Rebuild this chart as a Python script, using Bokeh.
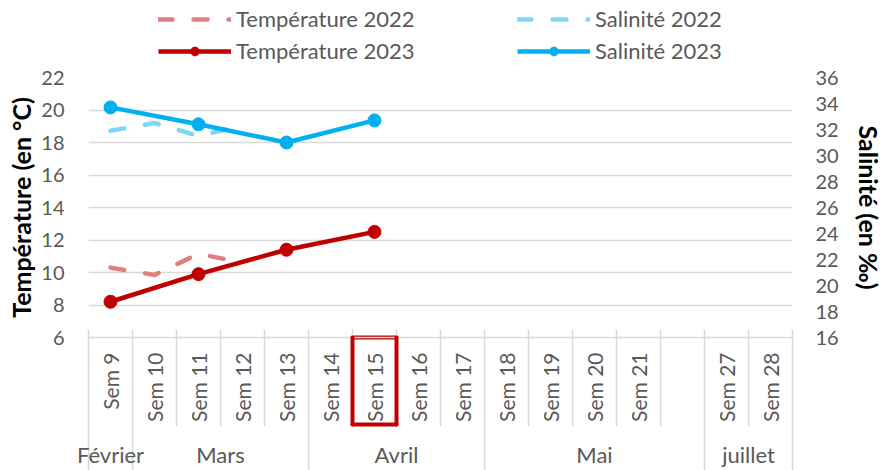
from bokeh.plotting import figure
from bokeh.layouts import column
from bokeh.models import (Range1d, LinearAxis, FixedTicker, Legend, LegendItem, Grid)
from bokeh.embed import file_html
from bokeh.resources import INLINE
import math

# ---- data ----
weeks = ["Sem 9", "Sem 10", "Sem 11", "Sem 12", "Sem 13", "Sem 14", "Sem 15", "Sem 16",
         "Sem 17", "Sem 18", "Sem 19", "Sem 20", "Sem 21", "", "Sem 27", "Sem 28"]
months = ["Février", "Mars", "Avril", "Mai", "juillet"]
month_sizes = [1, 4, 4, 5, 2]

weeks_2022 = ["Sem 9", "Sem 10", "Sem 11", "Sem 12"]
temp_2022 = [10.3, 9.85, 11.15, 10.6]
sal_2022 = [31.9, 32.5, 31.5, 32.3]

weeks_2023 = ["Sem 9", "Sem 11", "Sem 13", "Sem 15"]
temp_2023 = [8.2, 9.9, 11.4, 12.5]
sal_2023 = [33.7, 32.4, 31.0, 32.7]

temp_ticks = [6, 8, 10, 12, 14, 16, 18, 20, 22]
sal_ticks = [16, 18, 20, 22, 24, 26, 28, 30, 32, 34, 36]
highlight_week = "Sem 15"

# ---- styling ----
FONT = "Lato"
GRID = "#D9D9D9"
TXT = "#595959"
RED = "#C00000"
RED_L = "#DF7F7F"
BLUE = "#00B0F0"
BLUE_L = "#7FD7F7"

DASH22 = dict(line_width=4.5, line_dash="14 21", line_cap="round", line_join="round")
SOLID23 = dict(line_width=4.5, line_join="round")
MARK = dict(size=13)


def pos(w):
    return 2 * weeks.index(w) + 1


def plain_axis(**kw):
    base = dict(major_tick_line_color=None, minor_tick_line_color=None,
                major_tick_in=0, major_tick_out=0, minor_tick_in=0, minor_tick_out=0,
                axis_line_color=None, major_label_standoff=0,
                major_label_text_font=FONT, major_label_text_color=TXT)
    base.update(kw)
    return LinearAxis(**base)


n = len(weeks)
p = figure(frame_width=704, frame_height=260, output_backend="svg", toolbar_location=None,
           x_range=Range1d(0, 2 * n), y_range=Range1d(temp_ticks[0], temp_ticks[-1]),
           x_axis_location=None, y_axis_location=None,
           min_border_left=88, min_border_right=96, min_border_top=12, min_border_bottom=133)
p.outline_line_color = None
p.xgrid.visible = False
p.ygrid.visible = False
p.extra_y_ranges = {"sal": Range1d(sal_ticks[0], sal_ticks[-1])}

p.add_layout(Grid(dimension=1, ticker=FixedTicker(ticks=temp_ticks),
                  grid_line_color=GRID, grid_line_width=1.5))

yl = plain_axis(ticker=FixedTicker(ticks=temp_ticks), axis_label="Température (en °C)",
                major_label_standoff=24, major_label_text_font_size="20px",
                axis_label_text_font=FONT, axis_label_text_font_size="25px",
                axis_label_text_font_style="bold", axis_label_text_color="black",
                axis_label_standoff=2)
p.add_layout(yl, "left")

yr = plain_axis(y_range_name="sal", ticker=FixedTicker(ticks=sal_ticks),
                axis_label="Salinité (en ‰)",
                major_label_standoff=23, major_label_text_font_size="20px",
                axis_label_text_font=FONT, axis_label_text_font_size="25px",
                axis_label_text_font_style="bold", axis_label_text_color="black",
                axis_label_standoff=12)
p.add_layout(yr, "right")

hi = 2 * weeks.index(highlight_week)

# top edge of the highlight frame (zero-height axis at the plot bottom)
red_top = plain_axis(ticker=FixedTicker(ticks=[]), bounds=(hi, hi + 2),
                     axis_line_color=RED, axis_line_width=4, axis_line_cap="round")
p.add_layout(red_top, "below")

# week axis
centers = [2 * i + 1 for i in range(n)]
bounds = [2 * i for i in range(n + 1)]
xw = plain_axis(ticker=FixedTicker(ticks=centers, minor_ticks=bounds),
                major_label_overrides={c: w for c, w in zip(centers, weeks)},
                major_label_orientation=math.pi / 2,
                minor_tick_line_color=GRID, minor_tick_line_width=1.5,
                minor_tick_in=8, minor_tick_out=89,
                axis_line_color=GRID, axis_line_width=1.5,
                major_label_standoff=-74, major_label_text_font_size="21px")
p.add_layout(xw, "below")

# sides and bottom edge of the highlight frame
red_bot = plain_axis(ticker=FixedTicker(ticks=[], minor_ticks=[hi, hi + 2]), bounds=(hi, hi + 2),
                     axis_line_color=RED, axis_line_width=4, axis_line_cap="round",
                     minor_tick_line_color=RED, minor_tick_line_width=4,
                     minor_tick_line_cap="round", minor_tick_in=87, minor_tick_out=0)
p.add_layout(red_bot, "below")

# month axis
m_bounds = [0]
for s in month_sizes:
    m_bounds.append(m_bounds[-1] + 2 * s)
m_centers = [(a + b) // 2 for a, b in zip(m_bounds[:-1], m_bounds[1:])]
xm = plain_axis(ticker=FixedTicker(ticks=m_centers, minor_ticks=m_bounds),
                major_label_overrides={c: m for c, m in zip(m_centers, months)},
                major_label_orientation="horizontal",
                minor_tick_line_color=GRID, minor_tick_line_width=1.5,
                minor_tick_in=0, minor_tick_out=47,
                major_label_standoff=-31, major_label_text_font_size="22px")
p.add_layout(xm, "below")

x22 = [pos(w) for w in weeks_2022]
x23 = [pos(w) for w in weeks_2023]

p.line(x22, temp_2022, line_color=RED_L, **DASH22)
p.line(x22, sal_2022, y_range_name="sal", line_color=BLUE_L, **DASH22)
p.line(x23, temp_2023, line_color=RED, **SOLID23)
p.scatter(x23, temp_2023, fill_color=RED, line_color=RED, **MARK)
p.line(x23, sal_2023, y_range_name="sal", line_color=BLUE, **SOLID23)
p.scatter(x23, sal_2023, y_range_name="sal", fill_color=BLUE, line_color=BLUE, **MARK)

# ---- legend strip above the chart (series drawn off-view, only their legend glyphs show) ----
lf = figure(width=888, height=65, output_backend="svg", toolbar_location=None,
            x_range=Range1d(-2, -1), y_range=Range1d(-2, -1),
            x_axis_location=None, y_axis_location=None,
            min_border_left=88, min_border_right=96, min_border_top=6, min_border_bottom=0)
lf.outline_line_color = None
lf.xgrid.visible = False
lf.ygrid.visible = False
lt22 = lf.line(x22, temp_2022, line_color=RED_L, **DASH22)
lt23 = lf.line(x23, temp_2023, line_color=RED, **SOLID23)
lt23m = lf.scatter(x23, temp_2023, fill_color=RED, line_color=RED, **MARK)
ls22 = lf.line(x22, sal_2022, line_color=BLUE_L, **DASH22)
ls23 = lf.line(x23, sal_2023, line_color=BLUE, **SOLID23)
ls23m = lf.scatter(x23, sal_2023, fill_color=BLUE, line_color=BLUE, **MARK)

legend = Legend(items=[
    LegendItem(label="Température 2022", renderers=[lt22]),
    LegendItem(label="Température 2023", renderers=[lt23, lt23m]),
    LegendItem(label="Salinité 2022", renderers=[ls22]),
    LegendItem(label="Salinité 2023", renderers=[ls23, ls23m]),
], orientation="vertical", nrows=2, location=(70, 1),
    glyph_width=73, glyph_height=22, label_height=22, label_width=276,
    spacing=5, label_standoff=5, padding=0, margin=0,
    border_line_color=None, background_fill_alpha=0,
    label_text_font=FONT, label_text_font_size="22px", label_text_color=TXT)
lf.add_layout(legend)

page = column(lf, p, spacing=0)
open("out.html", "w").write(file_html(page, INLINE))
